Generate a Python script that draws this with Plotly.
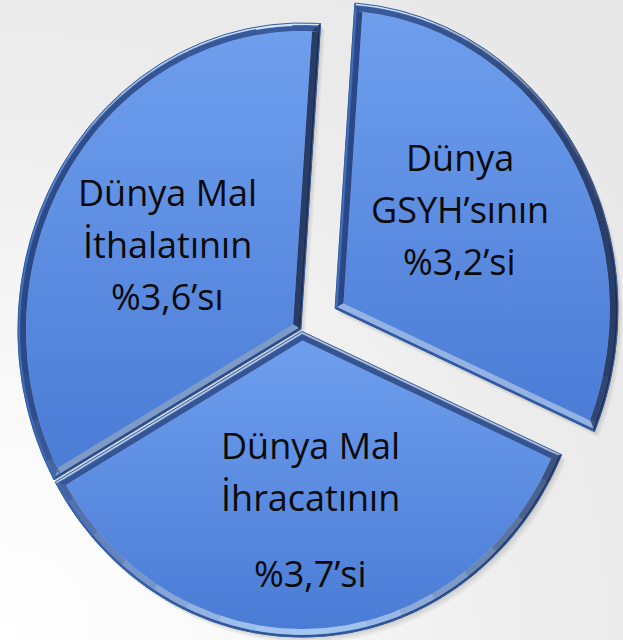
import numpy as np
import plotly.graph_objects as go

# ---- data --------------------------------------------------------------
label_lines = [
    ["Dünya", "GSYH’sının"],
    ["Dünya Mal", "İhracatının"],
    ["Dünya Mal", "İthalatının"],
]
shares = [3.2, 3.7, 3.6]            # Türkiye's share of the world total, %
suffixes = ["’si", "’si", "’sı"]
exploded = [True, False, False]

# ---- layout constants (axis units are screen pixels, y pointing up) ----
W, H = 623, 640
CX, CY = 302.0, 310.0
RX, RY = 284.0, 307.0
START = 4.0            # degrees clockwise from 12 o'clock where slice 1 starts
PULL = 38.0            # how far the exploded slice is pushed out
GAP = 1.3              # half-gap along the straight edges
OUTER_BAND = 2.5
BEVEL = 8.0
# label anchor per slice: (angle offset from the slice middle in degrees, radius)
LABEL_AT = [(-5.0, 0.55), (0.0, 0.585), (-2.0, 0.55)]
LINE_STEP = 52
VALUE_GAP = [0, 24, 0]
FONT = dict(family="Open Sans, Noto Sans, sans-serif", size=36, color="#0a0a0a")

# bevel palettes by direction of the outward edge normal
OUTER_PAL = dict(up=(214, 230, 252), down=(44, 84, 158), left=(66, 112, 194), right=(30, 45, 80))
INNER_PAL = dict(up=(56, 90, 156), down=(165, 197, 243), left=(42, 72, 134), right=(40, 60, 102))


def wedge(a0, a1):
    n = max(int(abs(a1 - a0) * 1.5), 20)
    a = np.radians(np.linspace(a0, a1, n))
    arc = np.column_stack([RX * np.sin(a), RY * np.cos(a)])
    return np.vstack([[0.0, 0.0], arc])


def edge_normals(poly):
    t = np.roll(poly, -1, axis=0) - poly
    t /= np.linalg.norm(t, axis=1)[:, None]
    return np.column_stack([t[:, 1], -t[:, 0]])      # inward (clockwise order)


def inset(poly, d, gap):
    m = len(poly)
    nrm = edge_normals(poly)
    dist = np.full(m, float(d))
    dist[0] += gap
    dist[-1] += gap
    c = np.einsum("ij,ij->i", nrm, poly) + dist
    out = np.empty_like(poly)
    for j in range(m):
        i = j - 1
        out[j] = np.linalg.solve(np.array([nrm[i], nrm[j]]), [c[i], c[j]])
    return out


def shade(theta, pal):
    cx, sy = np.cos(theta), np.sin(theta)
    h = np.array(pal["right"] if cx > 0 else pal["left"], float)
    v = np.array(pal["up"] if sy > 0 else pal["down"], float)
    r, g, b = (cx * cx * h + sy * sy * v).round().astype(int)
    return f"rgb({r},{g},{b})"


def value_text(v, suffix):
    return "%" + f"{v:.1f}".replace(".", ",") + suffix


fig = go.Figure()

# soft radial backdrop, brightest at the lower left
fig.add_trace(go.Scatter(
    x=[-800, 800, 800, -800, -800], y=[-800, -800, 800, 800, -800],
    mode="lines", line=dict(width=0), fill="toself", hoverinfo="skip",
    fillgradient=dict(type="radial", colorscale=[[0, "#ffffff"], [0.35, "#f8f8f8"],
                                                 [0.7, "#ececec"], [1, "#e8e8e8"]]),
    showlegend=False))

bounds = START + np.concatenate([[0], np.cumsum(shares)]) / np.sum(shares) * 360.0
slices = []
for k in range(len(shares)):
    a0, a1 = bounds[k], bounds[k + 1]
    mid = np.radians((a0 + a1) / 2)
    ox, oy = CX, CY
    if exploded[k]:
        d = np.array([RX * np.sin(mid), RY * np.cos(mid)])
        d = d / np.linalg.norm(d) * PULL
        ox, oy = CX + d[0], CY + d[1]
    slices.append(dict(poly=wedge(a0, a1), ox=ox, oy=oy, mid=mid))

# drop shadow
for sx, sy, alpha in [(1.5, -2.0, 0.05), (3.0, -4.0, 0.05), (4.5, -6.0, 0.04)]:
    for s in slices:
        c0 = inset(s["poly"], 0, GAP)
        fig.add_trace(go.Scatter(
            x=np.append(c0[:, 0], c0[0, 0]) + s["ox"] + sx,
            y=np.append(c0[:, 1], c0[0, 1]) + s["oy"] + sy,
            mode="lines", line=dict(width=0), fill="toself",
            fillcolor=f"rgba(0,0,0,{alpha})", hoverinfo="skip", showlegend=False))

# bevel bands grouped by shade
groups = {}
for s in slices:
    poly = s["poly"]
    nrm = edge_normals(poly)
    contours = [inset(poly, d, GAP) for d in (0.0, OUTER_BAND, BEVEL)]
    m = len(poly)
    for band, pal in ((0, OUTER_PAL), (1, INNER_PAL)):
        ca, cb = contours[band], contours[band + 1]
        for j in range(m):
            jn = (j + 1) % m
            theta = np.degrees(np.arctan2(-nrm[j, 1], -nrm[j, 0]))
            b = int(round(theta / 8.0)) % 45
            col = shade(np.radians(b * 8.0), pal)
            g = groups.setdefault((band, col), ([], []))
            quad = np.array([ca[j], ca[jn], cb[jn], cb[j], ca[j]])
            g[0].extend(list(quad[:, 0] + s["ox"]) + [None])
            g[1].extend(list(quad[:, 1] + s["oy"]) + [None])

for (band, col), (xs, ys) in groups.items():
    fig.add_trace(go.Scatter(
        x=xs, y=ys, mode="lines", line=dict(width=0.7, color=col),
        fill="toself", fillcolor=col, hoverinfo="skip", showlegend=False))

# slice faces and outlines
for s in slices:
    face = inset(s["poly"], BEVEL, GAP)
    fig.add_trace(go.Scatter(
        x=np.append(face[:, 0], face[0, 0]) + s["ox"],
        y=np.append(face[:, 1], face[0, 1]) + s["oy"],
        mode="lines", line=dict(width=0), fill="toself", hoverinfo="skip",
        fillgradient=dict(type="vertical", colorscale=[[0, "#4a7cd6"], [1, "#6f9eed"]]),
        showlegend=False))
    c0 = inset(s["poly"], 0, GAP)
    fig.add_trace(go.Scatter(
        x=np.append(c0[:, 0], c0[0, 0]) + s["ox"],
        y=np.append(c0[:, 1], c0[0, 1]) + s["oy"],
        mode="lines", line=dict(width=1, color="#335d9c"),
        hoverinfo="skip", showlegend=False))

# labels
for k, s in enumerate(slices):
    dang, rad = LABEL_AT[k]
    ang = s["mid"] + np.radians(dang)
    lx = s["ox"] + rad * RX * np.sin(ang)
    ly = s["oy"] + rad * RY * np.cos(ang)
    lines = label_lines[k] + [value_text(shares[k], suffixes[k])]
    offs = [i * LINE_STEP for i in range(len(lines) - 1)]
    offs.append((len(lines) - 1) * LINE_STEP + VALUE_GAP[k])
    centre = (offs[0] + offs[-1]) / 2
    for text, off in zip(lines, offs):
        fig.add_annotation(x=lx, y=ly, xref="x", yref="y", text=text,
                           showarrow=False, yshift=centre - off,
                           xanchor="center", yanchor="middle", font=FONT)

fig.update_layout(
    width=W, height=H, margin=dict(l=0, r=0, t=0, b=0),
    paper_bgcolor="#ffffff", plot_bgcolor="#ffffff",
    xaxis=dict(range=[0, W], visible=False, fixedrange=True),
    yaxis=dict(range=[0, H], visible=False, fixedrange=True),
    showlegend=False,
)

fig.write_html("out.html")
